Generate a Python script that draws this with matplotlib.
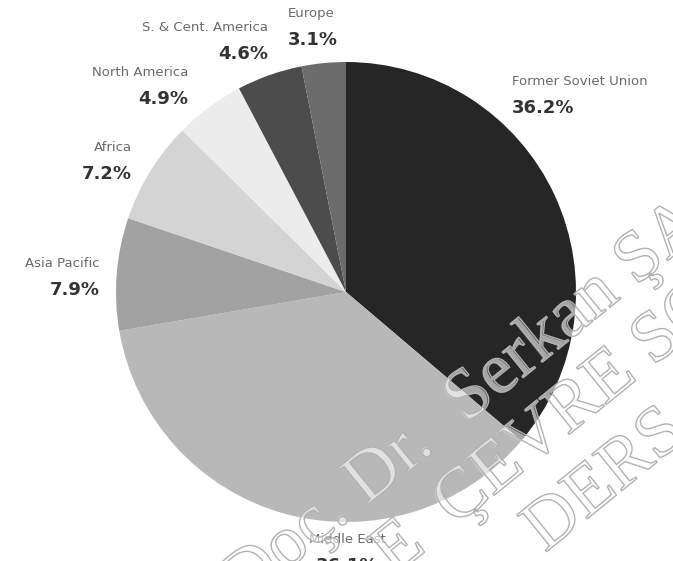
import matplotlib.pyplot as plt
import matplotlib.patheffects as pe

# Share of proved natural gas reserves by region (%)
regions = ["Former Soviet Union", "Middle East", "Asia Pacific", "Africa",
           "North America", "S. & Cent. America", "Europe"]
shares = [36.2, 36.1, 7.9, 7.2, 4.9, 4.6, 3.1]

slice_colors = ["#262626", "#b8b8b8", "#a2a2a2", "#d4d4d4",
                "#ececec", "#4c4c4c", "#6c6c6c"]

# label anchors in data units of the pie axes: (x, y_name, y_pct, ha)
label_pos = {
    "Former Soviet Union": (0.72, 0.915, 0.80, "left"),
    "Middle East": (0.005, -1.075, -1.19, "center"),
    "Asia Pacific": (-1.07, 0.125, 0.01, "right"),
    "Africa": (-0.93, 0.63, 0.515, "right"),
    "North America": (-0.685, 0.955, 0.84, "right"),
    "S. & Cent. America": (-0.34, 1.15, 1.035, "right"),
    "Europe": (-0.255, 1.21, 1.095, "left"),
}

fig = plt.figure(figsize=(6.73, 5.61), dpi=100)
ax = fig.add_axes([116 / 673, 39 / 561, 460 / 673, 460 / 561])
ax.pie(shares, colors=slice_colors, startangle=90, counterclock=False,
       radius=1.0, wedgeprops=dict(linewidth=0))
ax.set_xlim(-1, 1)
ax.set_ylim(-1, 1)
ax.set_aspect("equal")
ax.axis("off")

for name, val in zip(regions, shares):
    x, yn, yp, ha = label_pos[name]
    ax.text(x, yn, name, ha=ha, va="center", fontsize=9.5,
            color="#6a6a6a", clip_on=False)
    ax.text(x, yp, f"{val}%", ha=ha, va="center", fontsize=13,
            fontweight="bold", color="#333333", clip_on=False)

# diagonal watermark: grey outline, half-transparent white fill
wm_kw = dict(fontsize=52, family="Liberation Serif", rotation=39,
             rotation_mode="anchor", va="baseline")


def watermark(x, y, s, ha="left"):
    pos = (x / 673, 1 - y / 561)
    # fill and outline drawn separately so the fill is laid down once
    fig.text(*pos, s, ha=ha, color=(1, 1, 1, 0.6), **wm_kw)
    fig.text(*pos, s, ha=ha, color=(1, 1, 1, 0), **wm_kw,
             path_effects=[pe.Stroke(linewidth=1.0, foreground="#b2b2b2")])


watermark(466, 424, "Serkan ŞAHİNKAYA")
watermark(450, 438, "Doç. Dr. ", ha="right")
watermark(455, 527, "ÇEVRE SORUNLARI")
watermark(442, 538, "E ", ha="right")
watermark(545, 553, "DERS NOTLARI")

fig.savefig("out.png", dpi=100, facecolor="white")
